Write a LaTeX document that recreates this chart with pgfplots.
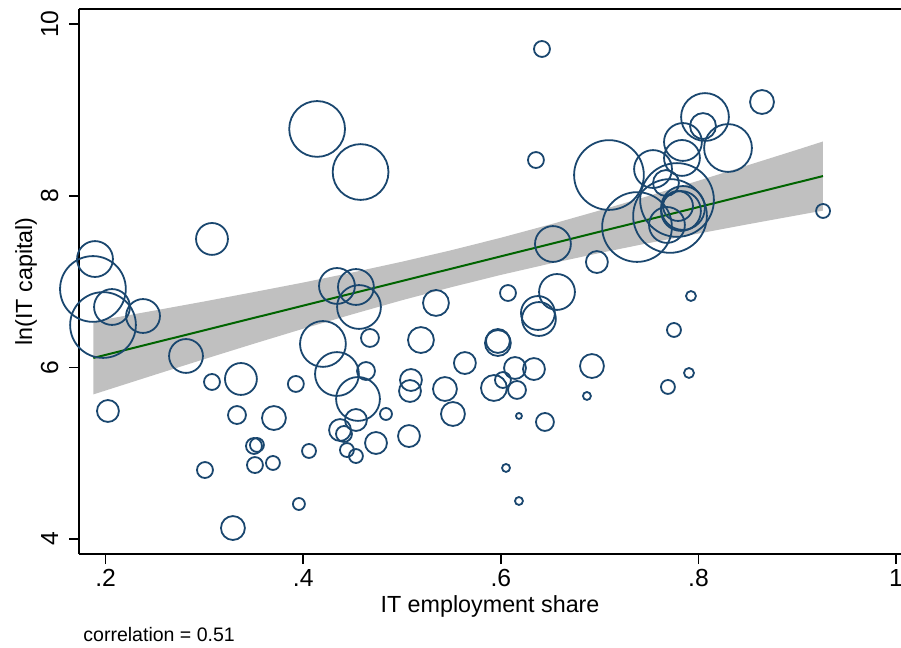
\documentclass[border=0pt]{standalone}
\usepackage{fontspec}
\setmainfont{Liberation Sans}
\usepackage{pgfplots}
\usepackage{pgfplotstable}
\pgfplotsset{compat=1.18}
\definecolor{statanavy}{RGB}{26,71,111}
\definecolor{fitgreen}{RGB}{0,100,0}
\definecolor{cigray}{RGB}{192,192,192}

% bubbles: x, y, radius (pt)
\pgfplotstableread{
x y r
0.414 8.779 14
0.458 8.277 14
0.3076 7.497 8
0.1892 7.263 9
0.1871 6.914 16.5
0.2064 6.704 9
0.1973 6.494 16.5
0.2378 6.599 8.5
0.4341 6.949 9
0.4533 6.937 9
0.4564 6.704 11
0.5343 6.751 6.5
0.2813 6.133 8.5
0.2023 5.492 5.5
0.3076 5.830 4
0.3369 5.865 8
0.3925 5.807 4
0.4199 6.273 11.5
0.4341 5.923 11
0.4554 5.632 11
0.4675 6.343 4.5
0.4635 5.958 4.5
0.4533 5.387 5.5
0.4837 5.457 3
0.5191 6.319 6.5
0.5090 5.853 5.5
0.5080 5.725 5.5
0.5070 5.200 5.5
0.4736 5.119 5.5
0.4372 5.270 5.5
0.4412 5.224 4
0.4442 5.037 3.5
0.4533 4.967 3.5
0.4058 5.026 3.5
0.3329 5.445 4.5
0.3703 5.410 6
0.3501 5.084 4
0.3531 5.096 3.5
0.3511 4.862 4
0.3693 4.886 3.5
0.3005 4.804 4
0.3956 4.408 3
0.3288 4.128 6
0.5434 5.748 6
0.5515 5.457 6
0.6072 6.867 4
0.6568 6.879 9
0.6375 6.634 8.5
0.6385 6.564 8.5
0.5970 6.308 6
0.5970 6.284 6.5
0.5636 6.051 5.5
0.6143 5.993 5.5
0.6335 5.981 5.5
0.6021 5.853 4
0.5930 5.760 6.5
0.6163 5.737 4.5
0.6183 5.434 1.5
0.6446 5.364 4.5
0.6922 6.016 6
0.6871 5.667 2
0.6052 4.828 2
0.6183 4.443 2
0.6527 7.438 9
0.6972 7.228 5.5
0.6416 9.711 4
0.6355 8.417 4
0.7094 8.242 17.5
0.7540 8.312 9.5
0.7843 8.627 9.5
0.7833 8.441 9
0.7671 8.149 6.5
0.7783 7.951 18.5
0.7712 7.765 18.5
0.7378 7.636 17.5
0.7843 7.858 11
0.7793 7.881 7.5
0.7681 7.660 9
0.7823 7.823 10
0.8066 8.918 12
0.8046 8.813 6.5
0.8299 8.557 12
0.8643 9.093 6
0.9261 7.823 3.5
0.7752 6.436 3.5
0.7904 5.935 2.5
0.7691 5.772 3.5
0.7924 6.832 2.5
}\bubbles

\begin{document}
\begin{tikzpicture}
\begin{axis}[name=ax, scale only axis, width=411bp, height=272.5bp,
  xmin=0.173, xmax=1.005, ymin=3.825, ymax=10.177,
  axis x line*=bottom, axis y line*=left,
  axis line style={-, line width=1bp, black},
  xtick={0.2,0.4,0.6,0.8,1}, xticklabels={.2,.4,.6,.8,1},
  ytick={4,6,8,10}, yticklabels={4,6,8,10},
  tick align=outside, major tick length=5bp,
  tick style={black, line width=0.8bp},
  ticklabel style={font=\fontsize{12.4}{14}\selectfont, inner sep=0pt},
  xticklabel style={anchor=base}, xticklabel shift=11bp,
  yticklabel style={rotate=90, anchor=base}, yticklabel shift=5.4bp,
  xlabel={IT employment share}, ylabel={ln(IT capital)},
  every axis x label/.style={at={(rel axis cs:0.5,0)}, anchor=base, yshift=-29bp,
    font=\fontsize{11.7}{14}\selectfont},
  every axis y label/.style={at={(rel axis cs:0,0.5)}, xshift=-23.5bp, rotate=90, anchor=base,
    font=\fontsize{11.7}{14}\selectfont},
  clip=false]

  % 95% CI band of the linear fit
  \addplot[fill=cigray, draw=none] coordinates {
    (0.1875,6.535) (0.25,6.664) (0.30,6.769) (0.35,6.878) (0.40,6.989) (0.45,7.107)
    (0.50,7.232) (0.55,7.366) (0.60,7.511) (0.65,7.666) (0.70,7.829) (0.75,8.000)
    (0.80,8.176) (0.85,8.356) (0.90,8.537) (0.926,8.633)
    (0.926,7.827) (0.90,7.773) (0.85,7.668) (0.80,7.560) (0.75,7.450) (0.70,7.333)
    (0.65,7.210) (0.60,7.078) (0.55,6.935) (0.50,6.783) (0.45,6.620) (0.40,6.451)
    (0.35,6.276) (0.30,6.097) (0.25,5.915) (0.1875,5.685)} -- cycle;

  \addplot[scatter, only marks, mark=o,
    scatter/use mapped color={draw=statanavy},
    mark options={line width=0.9bp},
    visualization depends on={\thisrow{r} \as \rad},
    scatter/@pre marker code/.append style={/tikz/mark size=\rad pt}]
    table[x=x, y=y] {\bubbles};

  % fitted line
  \addplot[fitgreen, line width=1bp] coordinates {(0.1875,6.110) (0.926,8.230)};

  \draw[line width=1bp] (rel axis cs:0,1) -- (rel axis cs:1,1);
  \node[anchor=base west, inner sep=0pt, font=\fontsize{9.8}{12}\selectfont]
    at ([xshift=2bp, yshift=-43.5bp]rel axis cs:0,0) {correlation = 0.51};
\end{axis}
\pgfresetboundingbox
\path[use as bounding box] ([shift={(-39.5bp,-46.5bp)}]ax.south west) rectangle ([shift={(0bp,4.5bp)}]ax.north east);
\end{tikzpicture}
\end{document}
